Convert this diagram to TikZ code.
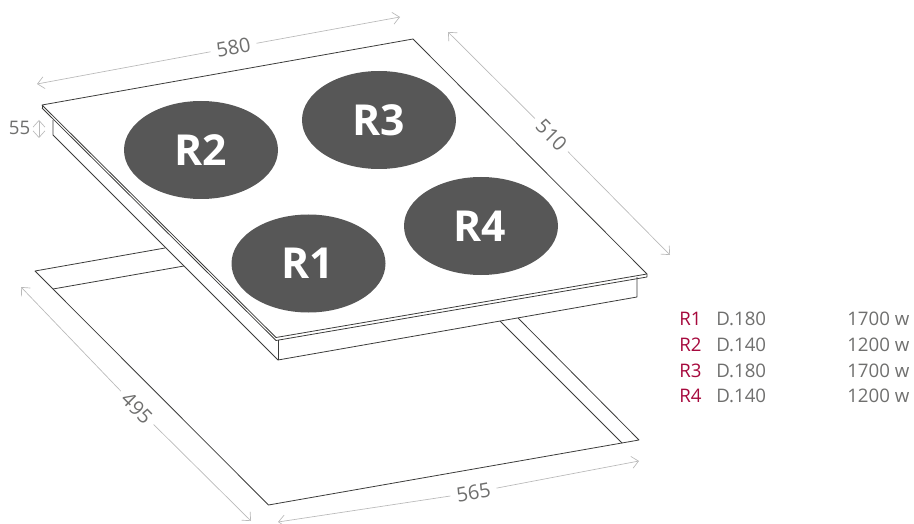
\documentclass[tikz,border=0pt]{standalone}
\usepackage{fontspec}
\setmainfont{Open Sans}
\usetikzlibrary{arrows.meta,shapes.geometric}
\definecolor{burner}{HTML}{575757}
\definecolor{labelgrey}{HTML}{6F6F6E}
\definecolor{dimgrey}{HTML}{B9B9B9}
\definecolor{linegrey}{HTML}{3C3C3B}
\definecolor{redlabel}{HTML}{A6093D}
\tikzset{
  outline/.style={draw=linegrey,line width=0.6pt,line join=round},
  dimline/.style={draw=dimgrey,line width=0.5pt,arrows={Straight Barb[length=5pt,width=9pt,line width=0.5pt]-Straight Barb[length=5pt,width=9pt,line width=0.5pt]}},
  dimhalfa/.style={draw=dimgrey,line width=0.5pt,arrows={Straight Barb[length=5pt,width=9pt,line width=0.5pt]-}},
  dimhalfb/.style={draw=dimgrey,line width=0.5pt,arrows={-Straight Barb[length=5pt,width=9pt,line width=0.5pt]}},
  dimtext/.style={text=labelgrey,font=\fontsize{15}{15}\selectfont,inner sep=4.5pt},
  burnerdisc/.style={ellipse,fill=burner,inner sep=0pt,text=white,font=\fontsize{32}{32}\selectfont\bfseries},
  listtext/.style={anchor=base west,text=labelgrey,font=\fontsize{14}{14}\selectfont,inner sep=0pt},
  listkey/.style={listtext,text=redlabel}
}
\begin{document}
\begin{tikzpicture}[x=0.75pt,y=-0.75pt]
\useasboundingbox (0,0) rectangle (914,524);
% cut-out
\coordinate (cA) at (35,271);
\coordinate (cB) at (268.5,505);
\coordinate (cC) at (639,440);
\coordinate (cD) at (518,318);
\coordinate (cE) at (165,248);
\coordinate (iA) at (53,289);
\coordinate (iB) at (184,266);
\coordinate (iC) at (622,443);
\coordinate (iD) at (500,321);
\draw[outline] (cE) -- (cA) -- (cB) -- (cC) -- (cD);
\draw[outline] (iA) -- (iB);
\draw[outline] (iC) -- (iD);
% hob body
\coordinate (bA) at (53,120);
\coordinate (bB) at (53,135);
\coordinate (bC) at (278,360);
\coordinate (bD) at (637,297);
\coordinate (bE) at (637,277);
\coordinate (bF) at (278,340);
\draw[outline] (bA) -- (bB) -- (bC) -- (bD) -- (bE);
\draw[outline] (bF) -- (bC);
% glass top
\coordinate (tA) at (42,105);
\coordinate (tB) at (413,39);
\coordinate (tC) at (647,274);
\coordinate (tD) at (276,337.5);
\coordinate (uA) at (42,108);
\coordinate (uC) at (647,277);
\coordinate (uD) at (276,340.5);
\draw[outline] (tA) -- (tB) -- (tC) -- (tD) -- cycle;
\draw[outline] (uA) -- (uD) -- (uC) -- (tC);
\draw[outline] (tA) -- (uA);
% burners
\node[burnerdisc,minimum width=115.5pt,minimum height=73.5pt] (R2) at (201,150) {R2};
\node[burnerdisc,minimum width=115.5pt,minimum height=73.5pt] (R3) at (379,120) {R3};
\node[burnerdisc,minimum width=115.5pt,minimum height=73.5pt] (R4) at (481,226) {\hspace*{-2pt}R4};
\node[burnerdisc,minimum width=115.5pt,minimum height=73.5pt] (R1) at (308.5,263.5) {\hspace*{-1pt}R1};
% dimensions
\coordinate (d580a) at (37,84);
\coordinate (d580b) at (400,17);
\node[dimtext,rotate=10.5] (l580) at (233.5,47.5) {580};
\draw[dimhalfa] (d580a) -- (l580);
\draw[dimhalfb] (l580) -- (d580b);
\coordinate (d510a) at (448,32);
\coordinate (d510b) at (670,255);
\node[dimtext,rotate=-45] (l510) at (551.5,135) {510};
\draw[dimhalfa] (d510a) -- (l510);
\draw[dimhalfb] (l510) -- (d510b);
\coordinate (d495a) at (21,287);
\coordinate (d495b) at (251,521);
\node[dimtext,rotate=-45] (l495) at (137,408) {495};
\draw[dimhalfa] (d495a) -- (l495);
\draw[dimhalfb] (l495) -- (d495b);
\coordinate (d565a) at (278,522);
\coordinate (d565b) at (639,461);
\node[dimtext,rotate=10] (l565) at (473.5,492.5) {565};
\draw[dimhalfa] (d565a) -- (l565);
\draw[dimhalfb] (l565) -- (d565b);
\node[dimtext,anchor=east,inner sep=0pt,font=\fontsize{14}{14}\selectfont] (l55) at (30.5,128) {55};
\coordinate (d55a) at (39,120);
\coordinate (d55b) at (39,138);
\draw[dimline] (d55a) -- (d55b);
% legend
\node[listkey] (k1) at (679,325) {R1};
\node[listtext] (d1) at (716,325) {D.180};
\node[listtext] (p1) at (847,325) {1700 w};
\node[listkey] (k2) at (679,351) {R2};
\node[listtext] (d2) at (716,351) {D.140};
\node[listtext] (p2) at (847,351) {1200 w};
\node[listkey] (k3) at (679,377) {R3};
\node[listtext] (d3) at (716,377) {D.180};
\node[listtext] (p3) at (847,377) {1700 w};
\node[listkey] (k4) at (679,402) {R4};
\node[listtext] (d4) at (716,402) {D.140};
\node[listtext] (p4) at (847,402) {1200 w};
\end{tikzpicture}
\end{document}
